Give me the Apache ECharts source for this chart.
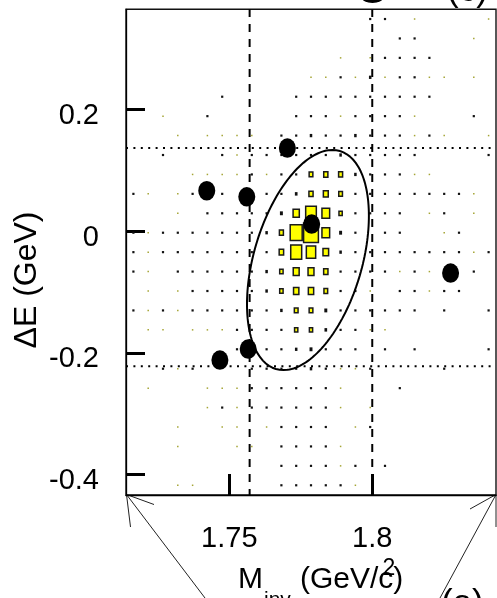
<!DOCTYPE html>
<html>
<head>
<meta charset="utf-8">
<script src="https://cdn.jsdelivr.net/npm/echarts@6/dist/echarts.min.js"></script>
<style>
  html, body { margin: 0; padding: 0; background: #fff; }
  #chart { width: 497px; height: 598px; }
</style>
</head>
<body>
<div id="chart"></div>
<script>
// Axis ranges: invariant mass (GeV/c^2) and energy difference (GeV)
const massRange = [1.71385, 1.84329];
const deltaERange = [-0.434, 0.365];
const xTickValues = [1.75, 1.8];
const yTickValues = [-0.4, -0.2, 0, 0.2];
const nBinsX = 25;
const nBinsY = 25;

// Signal-region boundaries
const massCuts = [1.7571, 1.8];
const deltaECuts = [-0.222, 0.137];

// Candidate events
const eventMass   = [1.7421, 1.7561, 1.7703, 1.7788, 1.8274, 1.7467, 1.7566];
const eventDeltaE = [0.0665, 0.0566, 0.1367, 0.0117, -0.0689, -0.2121, -0.1940];

// Contour ellipse: centre and the two semi-axis vectors (data units)
const contourCenter = [1.7775, -0.0475];
const contourMajor  = [0.01119, 0.1793];
const contourMinor  = [0.01815, -0.0252];

// Simulated signal distribution (box size = content / max).
// One row per ΔE bin, from the highest ΔE bin down to the lowest.
const histRows = [
  [0,0,0,0,0,0,0,0,0,0,0,0,0,0,0,0,11,11,0,5,0,0,0,0,5],
  [0,0,0,0,0,0,0,0,0,0,0,0,0,0,0,0,0,0,11,11,0,0,0,5,0],
  [0,0,0,0,0,0,0,0,0,0,0,0,0,0,5,0,5,11,11,11,11,0,0,0,0],
  [0,0,0,0,0,0,0,0,0,0,0,0,5,5,11,5,17,5,11,11,5,5,0,5,0],
  [0,0,0,0,0,0,11,0,0,0,0,11,11,11,11,11,11,11,11,11,11,0,0,0,0],
  [0,0,5,0,0,11,0,0,0,0,0,11,11,11,5,11,11,11,11,5,0,0,0,11,0],
  [0,0,0,5,0,5,5,5,5,0,11,11,17,11,11,17,11,11,11,5,11,5,0,0,5],
  [0,0,11,0,0,0,11,5,11,11,11,11,11,11,17,11,11,11,11,11,0,0,0,0,11],
  [0,0,0,0,5,5,5,5,11,5,11,11,25,28,27,17,11,11,11,5,5,0,0,0,0],
  [11,5,0,5,11,11,11,0,11,11,11,18,28,33,25,11,11,11,11,11,11,11,11,5,0],
  [0,0,0,5,0,11,11,11,11,11,20,42,72,52,22,11,11,11,11,0,5,11,0,5,0],
  [11,5,11,11,11,11,11,11,11,17,27,81,100,52,20,11,0,11,11,0,0,5,11,0,0],
  [11,5,11,11,11,11,11,11,11,11,30,74,63,38,17,11,11,11,11,11,11,11,11,5,11],
  [11,5,0,11,11,11,11,11,11,17,23,40,40,29,11,11,11,11,5,11,5,11,0,11,0],
  [0,5,0,5,11,11,11,11,11,17,23,36,36,25,11,11,5,0,11,11,5,11,11,0,0],
  [11,5,11,5,11,11,11,11,11,11,17,25,25,20,11,11,11,11,11,11,0,11,0,0,11],
  [0,5,5,0,5,5,5,11,11,11,11,22,22,18,11,11,5,5,0,0,0,0,0,0,0],
  [0,0,0,0,0,0,0,11,11,11,11,17,20,11,11,11,0,11,0,11,0,0,0,0,11],
  [0,0,11,5,11,0,0,0,11,11,11,11,17,11,5,5,11,0,0,0,0,11,0,0,0],
  [0,5,0,0,0,5,5,5,11,11,11,11,11,11,5,0,0,0,11,0,0,0,0,0,0],
  [0,0,0,0,0,5,11,5,11,11,11,11,11,11,5,0,5,0,0,0,0,0,0,0,0],
  [0,0,0,5,0,0,5,5,0,5,11,11,11,11,0,5,11,0,0,0,0,0,0,0,0],
  [0,0,0,5,0,0,0,5,5,0,11,11,11,11,5,0,0,0,0,0,0,0,0,0,0],
  [0,0,0,0,0,0,0,0,0,0,11,11,11,11,5,11,0,11,0,0,0,0,0,0,0],
  [0,0,0,5,5,0,0,0,0,0,11,11,11,11,11,5,0,0,0,0,0,0,0,0,0]
];

const FONT = '"Liberation Sans", Arial, Helvetica, sans-serif';
const binW = (massRange[1] - massRange[0]) / nBinsX;
const binH = (deltaERange[1] - deltaERange[0]) / nBinsY;

// Histogram cells at bin centres
const cells = [];
let maxContent = 0;
histRows.forEach((row, j) => {
  row.forEach((v, i) => {
    if (v > 0) {
      cells.push([massRange[0] + (i + 0.5) * binW, deltaERange[1] - (j + 0.5) * binH, v]);
      maxContent = Math.max(maxContent, v);
    }
  });
});

function renderBox(params, api) {
  const c = api.coord([api.value(0), api.value(1)]);
  const s = api.size([binW, binH]);
  const f = api.value(2) / maxContent;
  let w = s[0] * f, h = s[1] * f;
  if (w < 1.2) {
    return { type: 'rect', shape: { x: c[0] - 0.75, y: c[1] - 0.75, width: 1.5, height: 1.5 },
             style: { fill: '#a5a535' } };
  }
  if (w < 3.2) {
    w = Math.max(w, 2.2); h = Math.max(h, 2.2);
    return { type: 'rect', shape: { x: c[0] - w / 2, y: c[1] - h / 2, width: w, height: h },
             style: { fill: '#111' } };
  }
  return { type: 'rect', shape: { x: c[0] - w / 2, y: c[1] - h / 2, width: w, height: h },
           style: { fill: '#ffff00', stroke: '#1a1a1a', lineWidth: 1.5 } };
}

// Contour points
const contour = [];
for (let k = 0; k <= 180; k++) {
  const t = 2 * Math.PI * k / 180;
  contour.push([
    contourCenter[0] + Math.cos(t) * contourMajor[0] + Math.sin(t) * contourMinor[0],
    contourCenter[1] + Math.cos(t) * contourMajor[1] + Math.sin(t) * contourMinor[1]
  ]);
}

const cutSeries = [];
massCuts.forEach(m => cutSeries.push({
  type: 'line', data: [[m, deltaERange[0]], [m, deltaERange[1]]], showSymbol: false, silent: true, z: 3,
  lineStyle: { color: '#000', width: 2, type: [8, 7], dashOffset: 2 }
}));
deltaECuts.forEach(d => cutSeries.push({
  type: 'line', data: [[massRange[0], d], [massRange[1], d]], showSymbol: false, silent: true, z: 3,
  lineStyle: { color: '#000', width: 2, type: [2, 5.4] }
}));

const thin = { stroke: '#222', lineWidth: 1 };

const chart = echarts.init(document.getElementById('chart'), null, { renderer: 'canvas' });
chart.setOption({
  animation: false,
  backgroundColor: '#fff',
  grid: { left: 126, right: 1, top: 9.3, bottom: 103, show: true, borderColor: '#111', borderWidth: 1.4 },
  xAxis: {
    type: 'value', min: massRange[0], max: massRange[1],
    splitLine: { show: false },
    axisLine: { show: true, onZero: false, lineStyle: { color: '#000', width: 1.3 } },
    axisTick: { show: true, inside: true, length: 21, customValues: xTickValues, lineStyle: { color: '#000', width: 3 } },
    axisLabel: { customValues: xTickValues, formatter: v => String(v), fontSize: 29, fontFamily: FONT, color: '#000', margin: 29 }
  },
  yAxis: {
    type: 'value', min: deltaERange[0], max: deltaERange[1],
    splitLine: { show: false },
    axisLine: { show: true, onZero: false, lineStyle: { color: '#000', width: 1.3 } },
    axisTick: { show: true, inside: true, length: 19, customValues: yTickValues, lineStyle: { color: '#000', width: 3 } },
    axisLabel: { customValues: yTickValues, formatter: v => String(v), fontSize: 29, fontFamily: FONT, color: '#000',
                 margin: 27, verticalAlign: 'top', lineHeight: 13 }
  },
  series: [
    { type: 'custom', renderItem: renderBox, data: cells, silent: true, z: 2 },
    ...cutSeries,
    { type: 'line', data: contour, showSymbol: false, silent: true, z: 4,
      lineStyle: { color: '#000', width: 2 } },
    { type: 'scatter', data: eventMass.map((m, i) => [m, eventDeltaE[i]]), symbol: 'circle',
      symbolSize: [17, 19.5], itemStyle: { color: '#000', opacity: 1 }, silent: true, z: 5 }
  ],
  graphic: [
    { type: 'text', x: 27.5, y: 280, rotation: Math.PI / 2,
      style: { text: 'ΔE (GeV)', font: '32px ' + FONT, fill: '#000', align: 'center', verticalAlign: 'middle' } },
    { type: 'text', x: 238, y: 580,
      style: { text: 'M', font: '30px ' + FONT, fill: '#000', align: 'left', verticalAlign: 'middle' } },
    { type: 'text', x: 264, y: 600,
      style: { text: 'inv', font: '21px ' + FONT, fill: '#000', align: 'left', verticalAlign: 'middle' } },
    { type: 'text', x: 300, y: 580,
      style: { text: '(GeV/c)', font: '30px ' + FONT, fill: '#000', align: 'left', verticalAlign: 'middle' } },
    { type: 'text', x: 389, y: 569,
      style: { text: '2', font: '23px ' + FONT, fill: '#000', align: 'center', verticalAlign: 'middle' } },
    { type: 'text', x: 447, y: -9,
      style: { text: '(c)', font: '35px ' + FONT, fill: '#000', align: 'left', verticalAlign: 'middle' } },
    { type: 'text', x: 441, y: 604,
      style: { text: '(a)', font: '35px ' + FONT, fill: '#000', align: 'left', verticalAlign: 'middle' } },
    { type: 'circle', x: 372.5, y: -3, scaleY: 0.55, shape: { cx: 0, cy: 0, r: 11 }, style: { fill: '#000' } },
    { type: 'line', shape: { x1: 126.5, y1: 494.5, x2: 205, y2: 598 }, style: thin },
    { type: 'line', shape: { x1: 126.5, y1: 494.5, x2: 154, y2: 504.5 }, style: thin },
    { type: 'line', shape: { x1: 126.5, y1: 494.5, x2: 130.5, y2: 527 }, style: thin },
    { type: 'line', shape: { x1: 496, y1: 494.5, x2: 440, y2: 598 }, style: thin },
    { type: 'line', shape: { x1: 496, y1: 494.5, x2: 470, y2: 509 }, style: thin },
    { type: 'line', shape: { x1: 496, y1: 494.5, x2: 496, y2: 527 }, style: thin }
  ]
});
</script>
</body>
</html>
